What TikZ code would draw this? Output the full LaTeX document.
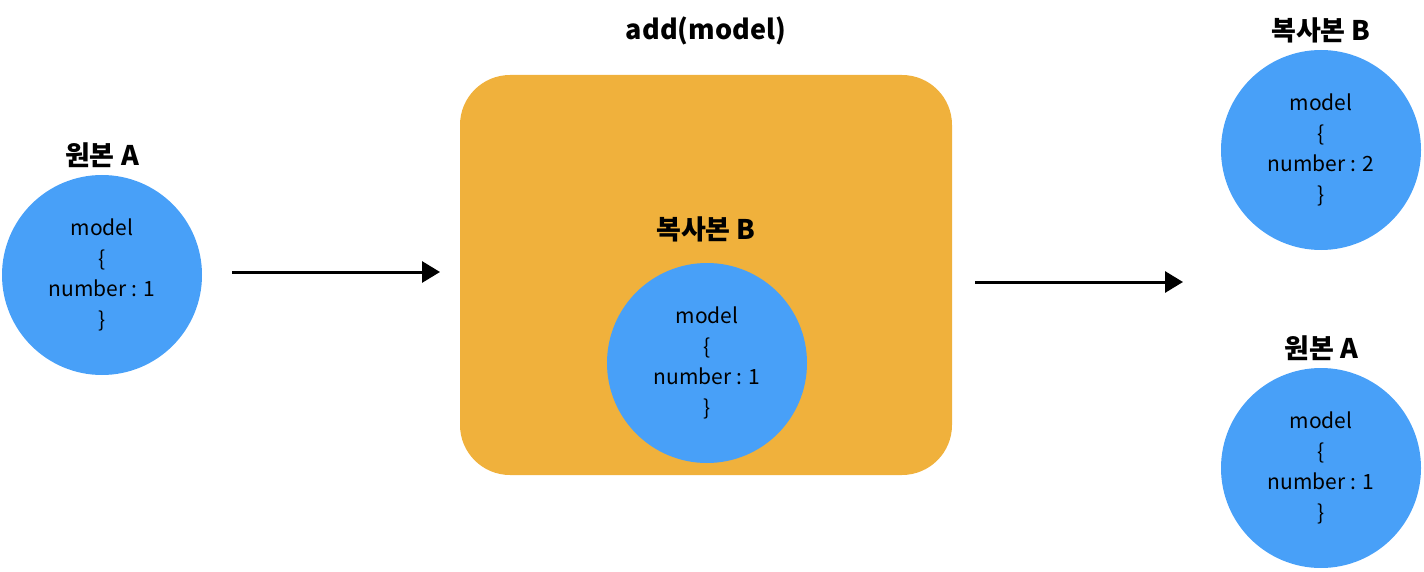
\documentclass[tikz,border=0pt]{standalone}
\usepackage{fontspec}
\setmainfont{Noto Sans CJK KR}
\usetikzlibrary{arrows.meta}
\definecolor{cblue}{HTML}{48A0F8}
\definecolor{corange}{HTML}{F0B13C}
\begin{document}
\begin{tikzpicture}[x=1pt,y=-1pt,
  obj/.style={circle,fill=cblue,minimum size=200pt,inner sep=0pt,align=center,font=\fontsize{21}{30.5}\selectfont},
  lbl/.style={font=\fontsize{27}{30}\selectfont\bfseries,inner sep=0pt},
  flow/.style={line width=3pt,-{Triangle[length=18pt,width=21pt]}}]
\useasboundingbox (0,0) rectangle (1424,572);
\node[obj] (a1) at (102,275) {model\\\{\\number : 1\\\}};
\node[lbl] (la1) at (102,155) {원본 A};
\node[fill=corange,rounded corners=50pt,minimum width=492pt,minimum height=400pt,inner sep=0pt] (box) at (706,275) {};
\node[lbl] (ladd) at (706,31) {add(model)};
\node[lbl] (lb1) at (706,229) {복사본 B};
\node[obj] (b1) at (707,363) {model\\\{\\number : 1\\\}};
\coordinate (s1) at (232,272);
\coordinate (e1) at (440,272);
\draw[flow] (s1) -- (e1);
\coordinate (s2) at (975,282);
\coordinate (e2) at (1183,282);
\draw[flow] (s2) -- (e2);
\node[obj] (b2) at (1321,150) {model\\\{\\number : 2\\\}};
\node[lbl] (lb2) at (1321,30) {복사본 B};
\node[obj] (a2) at (1321,468) {model\\\{\\number : 1\\\}};
\node[lbl] (la2) at (1321,348) {원본 A};
\end{tikzpicture}
\end{document}
